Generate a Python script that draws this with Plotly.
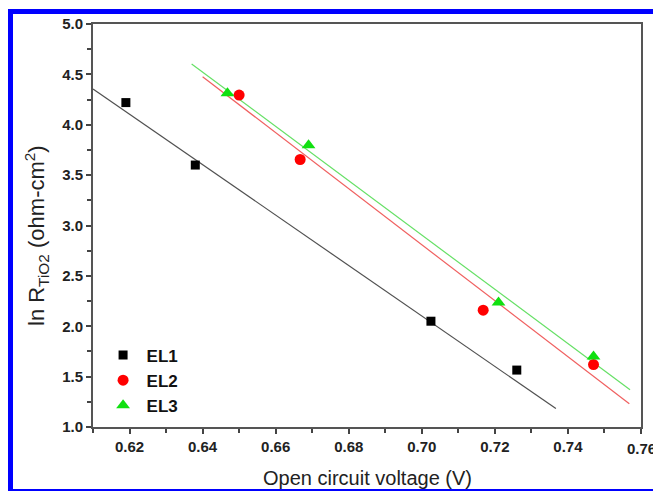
import plotly.graph_objects as go

# Data
el1_x = [0.619, 0.638, 0.7025, 0.726]
el1_y = [4.22, 3.60, 2.05, 1.565]
el2_x = [0.650, 0.6667, 0.7168, 0.747]
el2_y = [4.295, 3.655, 2.16, 1.62]
el3_x = [0.6468, 0.669, 0.721, 0.747]
el3_y = [4.312, 3.796, 2.235, 1.70]

# Fitted lines (end points)
fit1_x = [0.61, 0.7367]
fit1_y = [4.355, 1.183]
fit2_x = [0.640, 0.7568]
fit2_y = [4.477, 1.23]
fit3_x = [0.637, 0.757]
fit3_y = [4.603, 1.369]

x_ticks = [0.62, 0.64, 0.66, 0.68, 0.70, 0.72, 0.74, 0.76]
y_ticks = [1.0, 1.5, 2.0, 2.5, 3.0, 3.5, 4.0, 4.5, 5.0]

FONT = "Liberation Sans, Arial, sans-serif"

fig = go.Figure()

fig.add_trace(go.Scatter(x=fit1_x, y=fit1_y, mode="lines",
                         line=dict(color="#505050", width=1.2), showlegend=False, hoverinfo="skip"))
fig.add_trace(go.Scatter(x=fit2_x, y=fit2_y, mode="lines",
                         line=dict(color="#f06060", width=1.2), showlegend=False, hoverinfo="skip"))
fig.add_trace(go.Scatter(x=fit3_x, y=fit3_y, mode="lines",
                         line=dict(color="#66e066", width=1.2), showlegend=False, hoverinfo="skip"))

fig.add_trace(go.Scatter(x=el1_x, y=el1_y, mode="markers", name="<b>EL1</b>",
                         marker=dict(symbol="square", size=9, color="black")))
fig.add_trace(go.Scatter(x=el2_x, y=el2_y, mode="markers", name="<b>EL2</b>",
                         marker=dict(symbol="circle", size=11, color="#ff0000")))
fig.add_trace(go.Scatter(x=el3_x, y=el3_y, mode="markers", name="<b>EL3</b>",
                         marker=dict(symbol="triangle-up", size=12, color="#10e010")))

tick_font = dict(family=FONT, size=15, color="#222222", weight="bold")
axis_common = dict(
    showgrid=False, zeroline=False, showline=True, linecolor="#555555", linewidth=2,
    mirror=True, ticks="outside", ticklen=5, tickwidth=1.5, tickcolor="#444444",
    tickfont=tick_font, automargin=False,
)

fig.update_xaxes(
    range=[0.61, 0.76], tickvals=x_ticks, ticktext=[f"{v:.2f}" for v in x_ticks],
    minor=dict(dtick=0.01, ticks="outside", ticklen=4, tickwidth=1.5, tickcolor="#444444"),
    **axis_common,
)
fig.update_yaxes(
    range=[1.0, 5.0], tickvals=y_ticks, ticktext=[f"{v:.1f}" for v in y_ticks],
    minor=dict(dtick=0.25, ticks="outside", ticklen=4, tickwidth=1.5, tickcolor="#444444"),
    **axis_common,
)

# last x tick label, cut by the right edge of the picture as in the reference
fig.add_annotation(
    text=f"{x_ticks[-1]:.2f}", xref="x", yref="paper", x=x_ticks[-1], y=(427 - 448) / 403,
    xanchor="left", yanchor="middle", xshift=-14.6, width=26, align="left",
    borderpad=0, showarrow=False, font=tick_font,
)

# axis titles
fig.add_annotation(
    text="Open circuit voltage (V)",
    xref="paper", yref="paper", x=0.5, y=(427 - 478) / 403,
    xanchor="center", yanchor="middle", showarrow=False,
    font=dict(family=FONT, size=20, color="#222222"),
)
fig.add_annotation(
    text="ln R<sub>TiO2</sub> (ohm-cm<sup>2</sup>)", textangle=-90,
    xref="paper", yref="paper", x=(36 - 93) / 548, y=(427 - 236) / 403,
    xanchor="center", yanchor="middle", showarrow=False,
    font=dict(family=FONT, size=22, color="#222222"),
)


# blue frame (top, left, bottom)
def px_x(p):
    return (p - 93) / 548


def px_y(p):
    return (427 - p) / 403


fig.update_layout(
    width=653, height=493,
    margin=dict(l=93, r=12, t=24, b=66),
    paper_bgcolor="white", plot_bgcolor="white",
    showlegend=True,
    legend=dict(x=0.012, y=0.222, xanchor="left", yanchor="top",
                bgcolor="rgba(0,0,0,0)",
                font=dict(family=FONT, size=17, color="#111111"),
                tracegroupgap=0, itemsizing="trace", itemwidth=37),
    shapes=[
        dict(type="path", xref="paper", yref="paper", layer="below",
             path=f"M {px_x(653)},{px_y(11.5)} L {px_x(10.5)},{px_y(11.5)} L {px_x(10.5)},{px_y(490)}",
             line=dict(color="#0000ff", width=5)),
        dict(type="line", xref="paper", yref="paper", layer="below",
             x0=px_x(8), x1=px_x(653), y0=px_y(490), y1=px_y(490),
             line=dict(color="#0000ff", width=2)),
    ],
)

fig.write_html("out.html", config={"displayModeBar": False},
               post_script="document.body.style.margin='0';document.body.style.overflow='hidden';")
